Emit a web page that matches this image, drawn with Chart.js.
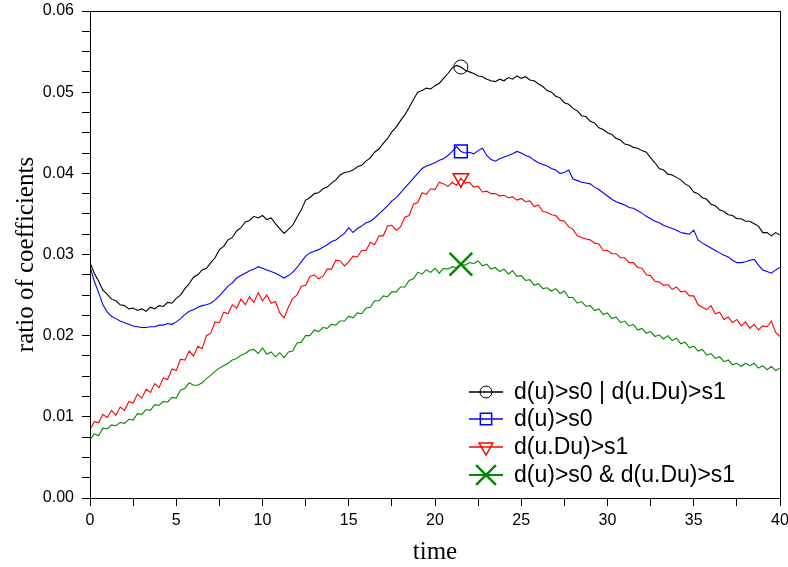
<!DOCTYPE html>
<html>
<head>
<meta charset="utf-8">
<script src="https://cdn.jsdelivr.net/npm/chart.js@4/dist/chart.umd.min.js"></script>
<style>
  body { margin: 0; background: #fff; }
  .chart-container { width: 788px; height: 567px; position: relative; }
</style>
</head>
<body>
<div class="chart-container"><canvas id="ratioChart"></canvas></div>
<script>
// sample times, every 0.25 from 0 to 40
const times = []
for (let i = 0; i <= 160; i++) times.push(i / 4)

// d(u)>s0 | d(u.Du)>s1
const seriesOr = [
  .0290,.0277,.0267,.0256,.0251,.0245,.0243,.0238,
  .0237,.0233,.0234,.0231,.0233,.0230,.0235,.0233,
  .0237,.0236,.0241,.0240,.0246,.0250,.0258,.0264,
  .0272,.0275,.0281,.0283,.0290,.0296,.0306,.0310,
  .0318,.0321,.0329,.0333,.0340,.0342,.0347,.0345,
  .0348,.0343,.0345,.0338,.0332,.0326,.0331,.0336,
  .0346,.0355,.0367,.0370,.0375,.0376,.0381,.0383,
  .0388,.0392,.0398,.0401,.0402,.0404,.0408,.0410,
  .0415,.0419,.0426,.0430,.0437,.0443,.0451,.0457,
  .0465,.0472,.0481,.0491,.0500,.0502,.0505,.0504,
  .0508,.0511,.0517,.0523,.0530,.0533,.0531,.0527,
  .0525,.0523,.0520,.0519,.0516,.0514,.0513,.0516,
  .0514,.0518,.0516,.0520,.0517,.0519,.0515,.0514,
  .0510,.0507,.0502,.0500,.0495,.0493,.0487,.0485,
  .0480,.0477,.0471,.0470,.0464,.0462,.0456,.0454,
  .0450,.0448,.0443,.0441,.0436,.0435,.0432,.0431,
  .0428,.0426,.0419,.0413,.0406,.0404,.0399,.0398,
  .0395,.0392,.0387,.0384,.0377,.0375,.0370,.0368,
  .0362,.0360,.0355,.0353,.0349,.0348,.0344,.0344,
  .0341,.0341,.0338,.0335,.0327,.0327,.0323,.0327,
  .0324
]

// d(u)>s0
const seriesU = [
  .0285,.0267,.0253,.0238,.0229,.0224,.0221,.0218,
  .0216,.0214,.0212,.0211,.0210,.0210,.0211,.0211,
  .0213,.0213,.0215,.0214,.0217,.0221,.0226,.0230,
  .0232,.0235,.0237,.0238,.0240,.0244,.0249,.0255,
  .0261,.0265,.0271,.0274,.0277,.0280,.0282,.0285,
  .0283,.0281,.0279,.0277,.0274,.0271,.0274,.0278,
  .0284,.0291,.0298,.0302,.0304,.0306,.0309,.0312,
  .0316,.0318,.0322,.0326,.0333,.0327,.0332,.0335,
  .0339,.0341,.0345,.0350,.0355,.0360,.0366,.0370,
  .0376,.0382,.0388,.0394,.0400,.0406,.0409,.0411,
  .0413,.0416,.0418,.0422,.0427,.0433,.0427,.0425,
  .0426,.0424,.0428,.0431,.0422,.0417,.0415,.0418,
  .0420,.0422,.0424,.0427,.0425,.0422,.0420,.0416,
  .0413,.0411,.0409,.0406,.0404,.0400,.0401,.0404,
  .0393,.0391,.0389,.0388,.0387,.0383,.0380,.0376,
  .0372,.0368,.0365,.0363,.0361,.0358,.0357,.0354,
  .0351,.0347,.0344,.0341,.0339,.0336,.0334,.0332,
  .0330,.0327,.0326,.0325,.0330,.0318,.0314,.0311,
  .0308,.0305,.0302,.0299,.0297,.0293,.0290,.0290,
  .0291,.0293,.0294,.0287,.0281,.0279,.0277,.0281,
  .0284
]

// d(u.Du)>s1
const seriesUDu = [
  .0084,.0094,.0093,.0103,.0099,.0108,.0102,.0112,
  .0108,.0119,.0117,.0128,.0123,.0134,.0130,.0141,
  .0136,.0148,.0146,.0159,.0157,.0171,.0170,.0181,
  .0175,.0187,.0184,.0200,.0203,.0217,.0216,.0229,
  .0227,.0238,.0234,.0245,.0238,.0248,.0241,.0253,
  .0243,.0250,.0240,.0242,.0228,.0222,.0235,.0246,
  .0250,.0261,.0262,.0273,.0275,.0270,.0273,.0282,
  .0282,.0293,.0292,.0286,.0291,.0298,.0297,.0305,
  .0305,.0315,.0312,.0323,.0323,.0335,.0336,.0330,
  .0334,.0346,.0348,.0362,.0364,.0376,.0374,.0381,
  .0380,.0389,.0387,.0384,.0389,.0385,.0394,.0388,
  .0389,.0383,.0384,.0377,.0378,.0375,.0375,.0372,
  .0373,.0370,.0371,.0367,.0369,.0365,.0366,.0359,
  .0361,.0353,.0352,.0349,.0348,.0342,.0341,.0334,
  .0331,.0323,.0321,.0319,.0318,.0314,.0313,.0305,
  .0305,.0301,.0301,.0296,.0296,.0290,.0290,.0284,
  .0283,.0275,.0274,.0267,.0266,.0262,.0263,.0257,
  .0260,.0254,.0255,.0249,.0249,.0238,.0235,.0232,
  .0237,.0227,.0229,.0220,.0223,.0216,.0220,.0212,
  .0217,.0209,.0214,.0207,.0212,.0211,.0218,.0204,
  .0199
]

// d(u)>s0 & d(u.Du)>s1
const seriesAnd = [
  .0072,.0079,.0077,.0086,.0085,.0090,.0089,.0093,
  .0092,.0097,.0096,.0104,.0103,.0109,.0108,.0115,
  .0114,.0119,.0118,.0124,.0123,.0133,.0135,.0142,
  .0139,.0139,.0142,.0147,.0151,.0156,.0160,.0163,
  .0166,.0170,.0172,.0176,.0178,.0182,.0183,.0178,
  .0185,.0177,.0180,.0174,.0179,.0173,.0180,.0181,
  .0191,.0192,.0200,.0200,.0207,.0205,.0210,.0209,
  .0214,.0213,.0218,.0218,.0224,.0222,.0228,.0227,
  .0234,.0235,.0243,.0243,.0249,.0248,.0254,.0254,
  .0260,.0260,.0268,.0270,.0278,.0276,.0281,.0278,
  .0283,.0277,.0283,.0282,.0285,.0284,.0288,.0287,
  .0290,.0289,.0292,.0286,.0288,.0282,.0284,.0279,
  .0282,.0276,.0280,.0273,.0274,.0268,.0269,.0262,
  .0264,.0258,.0259,.0255,.0258,.0252,.0255,.0247,
  .0247,.0240,.0242,.0236,.0237,.0231,.0233,.0226,
  .0228,.0221,.0223,.0216,.0218,.0212,.0214,.0207,
  .0209,.0203,.0205,.0199,.0201,.0196,.0200,.0194,
  .0197,.0190,.0192,.0185,.0187,.0181,.0183,.0176,
  .0178,.0172,.0174,.0168,.0170,.0164,.0166,.0162,
  .0166,.0163,.0166,.0160,.0163,.0158,.0162,.0157,
  .0160
]

const seriesLabels = ['d(u)>s0 | d(u.Du)>s1', 'd(u)>s0', 'd(u.Du)>s1', 'd(u)>s0 & d(u.Du)>s1']
const markerTime = 21.5

const styles = [
  { color: '#000000', pointStyle: 'circle', radius: 7, rotation: 0, markWidth: 1 },
  { color: '#0000ff', pointStyle: 'rect', radius: 9, rotation: 0, markWidth: 1.5 },
  { color: '#ff0000', pointStyle: 'triangle', radius: 9, rotation: 180, markWidth: 1.5 },
  { color: '#008a00', pointStyle: 'crossRot', radius: 16, rotation: 0, markWidth: 2.5 }
]

const toPoints = arr => arr.map((v, i) => ({ x: times[i], y: v }))

const datasets = [seriesOr, seriesU, seriesUDu, seriesAnd].map((s, k) => ({
  label: seriesLabels[k],
  data: toPoints(s),
  borderColor: styles[k].color,
  borderWidth: 1.1,
  tension: 0,
  pointStyle: styles[k].pointStyle,
  pointRotation: styles[k].rotation,
  pointBorderColor: styles[k].color,
  pointBackgroundColor: 'rgba(0,0,0,0)',
  pointBorderWidth: styles[k].markWidth,
  pointRadius: ctx => (ctx.raw && ctx.raw.x === markerTime) ? styles[k].radius : 0,
  pointHoverRadius: 0
}))

// frame round the plot area
const frame = {
  id: 'frame',
  afterDraw(chart) {
    const { ctx, chartArea: a } = chart
    ctx.save()
    ctx.strokeStyle = '#000'
    ctx.lineWidth = 1
    ctx.strokeRect(Math.round(a.left) + 0.5, Math.round(a.top) + 0.5, Math.round(a.right - a.left), Math.round(a.bottom - a.top))
    ctx.restore()
  }
}

// legend in the lower right, line + marker
const lineLegend = {
  id: 'lineLegend',
  afterDraw(chart) {
    const ctx = chart.ctx
    const x0 = 469, x1 = 503, tx = 514
    const rows = [392, 419, 447, 475]
    ctx.save()
    chart.data.datasets.forEach((ds, k) => {
      const y = rows[k]
      const st = styles[k]
      ctx.strokeStyle = st.color
      ctx.lineWidth = k === 3 ? 2 : 1.5
      ctx.beginPath()
      ctx.moveTo(x0, y)
      ctx.lineTo(x1, y)
      ctx.stroke()
      ctx.fillStyle = 'rgba(0,0,0,0)'
      ctx.lineWidth = st.markWidth
      Chart.helpers.drawPoint(ctx, {
        pointStyle: st.pointStyle,
        rotation: st.rotation,
        radius: k === 3 ? 14 : st.radius - 1,
        borderWidth: st.markWidth
      }, (x0 + x1) / 2, y)
      ctx.fillStyle = '#000'
      ctx.font = '23px "Liberation Sans", Arial, sans-serif'
      ctx.textBaseline = 'middle'
      ctx.fillText(ds.label, tx, y + 1)
    })
    ctx.restore()
  }
}

const config = {
  type: 'line',
  data: { datasets: datasets },
  options: {
    responsive: true,
    maintainAspectRatio: false,
    animation: false,
    layout: { padding: { top: 11, right: 8, left: 0, bottom: 0 } },
    plugins: { legend: { display: false }, tooltip: { enabled: false } },
    scales: {
      x: {
        type: 'linear',
        min: 0, max: 40,
        afterFit: s => { s.height = 69; s.paddingLeft = 0; s.paddingRight = 0 },
        ticks: {
          stepSize: 2.5,
          autoSkip: false,
          maxRotation: 0,
          padding: 5,
          color: '#000',
          font: { family: '"Liberation Sans", Arial, sans-serif', size: 16 },
          callback: v => (v % 5 === 0 ? String(v) : '')
        },
        grid: { drawOnChartArea: false, drawTicks: true, tickLength: 8, color: '#000' },
        border: { display: true, color: '#000', width: 1 },
        title: {
          display: true, text: 'time', color: '#000',
          font: { family: '"Liberation Serif", "Times New Roman", serif', size: 25 },
          padding: { top: 6, bottom: 0 }
        }
      },
      y: {
        min: 0, max: 0.06,
        afterFit: s => { s.width = 90; s.paddingTop = 0; s.paddingBottom = 0 },
        ticks: {
          stepSize: 0.0025,
          autoSkip: false,
          padding: 8,
          color: '#000',
          font: { family: '"Liberation Sans", Arial, sans-serif', size: 16 },
          callback: v => (Math.abs(v * 100 - Math.round(v * 100)) < 1e-6 ? v.toFixed(2) : '')
        },
        grid: { drawOnChartArea: false, drawTicks: true, tickLength: 8, color: '#000' },
        border: { display: true, color: '#000', width: 1 },
        title: {
          display: true, text: 'ratio of coefficients', color: '#000',
          font: { family: '"Liberation Serif", "Times New Roman", serif', size: 25 },
          padding: { top: 11, bottom: 4 }
        }
      }
    }
  },
  plugins: [frame, lineLegend]
}

const ratioChart = new Chart(document.getElementById('ratioChart'), config)
</script>
</body>
</html>
